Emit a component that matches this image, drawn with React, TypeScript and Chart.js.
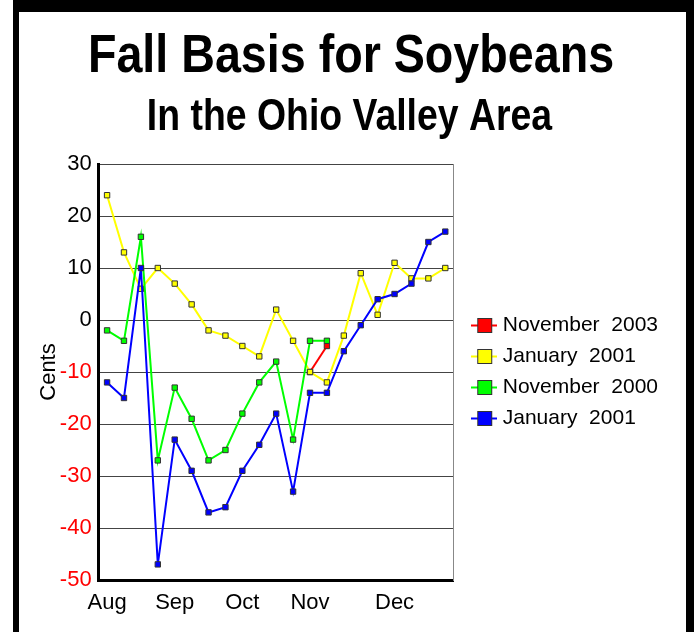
import React, { useEffect, useRef } from 'react';
import { Chart, registerables } from 'chart.js';

Chart.register(...registerables);

// ---- data ----
const titleText = 'Fall Basis for Soybeans';
const subtitleText = 'In the Ohio Valley Area';
const yAxisTitle = 'Cents';

const categories = ['Aug', '', '', '', 'Sep', '', '', '', 'Oct', '', '', '', 'Nov', '', '', '', '', 'Dec', '', '', ''];

const nov2003 = [null, null, null, null, null, null, null, null, null, null, null, null, -10, -5, null, null, null, null, null, null, null];
const jan2001a = [24, 13, 6, 10, 7, 3, -2, -3, -5, -7, 2, -4, -10, -12, -3, 9, 1, 11, 8, 8, 10];
const nov2000 = [-2, -4, 16, -27, -13, -19, -27, -25, -18, -12, -8, -23, -4, -4, null, null, null, null, null, null, null];
const jan2001b = [-12, -15, 10, -47, -23, -29, -37, -36, -29, -24, -18, -33, -14, -14, -6, -1, 4, 5, 7, 15, 17];

const seriesNames = ['November  2003', 'January  2001', 'November  2000', 'January  2001'];
const seriesData = [nov2003, jan2001a, nov2000, jan2001b];
const seriesColors = ['#ff0000', '#ffff00', '#00ff00', '#0000ff'];
const seriesOrder = [4, 3, 2, 1];

const yMin = -50;
const yMax = 30;
const yStep = 10;

const FONT = '"Liberation Sans", Arial, Helvetica, sans-serif';

function makeLegendIcon(color: string): HTMLCanvasElement {
  const c = document.createElement('canvas');
  c.width = 26;
  c.height = 17;
  const g = c.getContext('2d')!;
  g.strokeStyle = color;
  g.lineWidth = 2;
  g.beginPath();
  g.moveTo(0, 8.5);
  g.lineTo(26, 8.5);
  g.stroke();
  g.fillStyle = color;
  g.fillRect(6, 1, 15, 15);
  g.strokeStyle = '#333';
  g.lineWidth = 1;
  g.strokeRect(6.5, 1.5, 14, 14);
  return c;
}

const framePlugin = {
  id: 'frameAndTitles',
  beforeDraw(chart: any) {
    const ctx = chart.ctx;
    const w = chart.width;
    const h = chart.height;
    ctx.save();
    ctx.fillStyle = '#ffffff';
    ctx.fillRect(0, 0, w, h);
    ctx.fillStyle = '#000000';
    ctx.fillRect(13, 0, w - 13, 12);
    ctx.fillRect(13, 0, 6, h);
    ctx.fillRect(686, 0, w - 686, h);

    ctx.fillStyle = '#000';
    ctx.textAlign = 'center';
    ctx.textBaseline = 'alphabetic';
    ctx.font = `bold 53px ${FONT}`;
    ctx.save();
    ctx.translate(351, 72);
    ctx.scale(0.88, 1);
    ctx.fillText(titleText, 0, 0);
    ctx.restore();
    ctx.font = `bold 44px ${FONT}`;
    ctx.save();
    ctx.translate(349.5, 130);
    ctx.scale(0.85, 1);
    ctx.fillText(subtitleText, 0, 0);
    ctx.restore();
    ctx.restore();
  },
};

export default function App() {
  const ref = useRef<HTMLCanvasElement | null>(null);

  useEffect(() => {
    if (!ref.current) return;
    const icons = seriesColors.map(makeLegendIcon);
    const chart = new Chart(ref.current, {
      type: 'line',
      data: {
        labels: categories,
        datasets: seriesNames.map((name, i) => ({
          label: name,
          data: seriesData[i],
          borderColor: seriesColors[i],
          backgroundColor: seriesColors[i],
          borderWidth: 2,
          pointStyle: 'rect',
          pointRadius: 3.8,
          pointHoverRadius: 3.8,
          pointBorderWidth: 1,
          pointBorderColor: '#333',
          pointBackgroundColor: seriesColors[i],
          tension: 0,
          spanGaps: false,
          order: seriesOrder[i],
          yAxisID: 'y',
        })),
      },
      options: {
        responsive: false,
        animation: false,
        devicePixelRatio: 1,
        layout: { padding: { top: 164, left: 46, right: 26, bottom: 5.6 } },
        plugins: {
          title: { display: false },
          tooltip: { enabled: false },
          legend: {
            display: true,
            position: 'right',
            align: 'center',
            fullSize: false,
            maxWidth: 260,
            labels: {
              usePointStyle: true,
              pointStyleWidth: 16,
              boxHeight: 16,
              padding: 10,
              color: '#000',
              font: { family: FONT, size: 21 },
              generateLabels: (ch: any) =>
                ch.data.datasets.map((ds: any, i: number) => ({
                  text: ds.label,
                  fillStyle: seriesColors[i],
                  strokeStyle: '#333',
                  lineWidth: 0,
                  pointStyle: icons[i],
                  hidden: false,
                  datasetIndex: i,
                  fontColor: '#000',
                })),
            },
          },
        },
        scales: {
          x: {
            type: 'category',
            offset: true,
            grid: { display: false, drawTicks: false },
            border: { display: true, color: '#000', width: 3 },
            ticks: {
              autoSkip: false,
              maxRotation: 0,
              minRotation: 0,
              padding: 10,
              color: '#000',
              font: { family: FONT, size: 22 },
            },
          },
          y: {
            min: yMin,
            max: yMax,
            ticks: {
              stepSize: yStep,
              padding: 7,
              color: (c: any) => (c.tick && c.tick.value < 0 ? '#ff0000' : '#000000'),
              font: { family: FONT, size: 22 },
            },
            grid: { color: '#444', lineWidth: 1, drawTicks: false },
            border: { display: true, color: '#000', width: 3 },
            title: {
              display: true,
              text: yAxisTitle,
              color: '#000',
              font: { family: FONT, size: 22, lineHeight: 0.31 },
              padding: { top: 0, bottom: 0 },
            },
          },
          y2: {
            position: 'right',
            min: yMin,
            max: yMax,
            grid: { display: false, drawTicks: false },
            ticks: { display: false },
            border: { display: true, color: '#888', width: 1 },
            afterFit: (s: any) => {
              s.width = 12.5;
            },
          },
        },
      },
      plugins: [framePlugin],
    });
    return () => chart.destroy();
  }, []);

  return (
    <div style={{ position: 'fixed', left: 0, top: 0, width: 694, height: 632, background: '#fff' }}>
      <canvas ref={ref} width={694} height={632} style={{ display: 'block', width: 694, height: 632 }} />
    </div>
  );
}
